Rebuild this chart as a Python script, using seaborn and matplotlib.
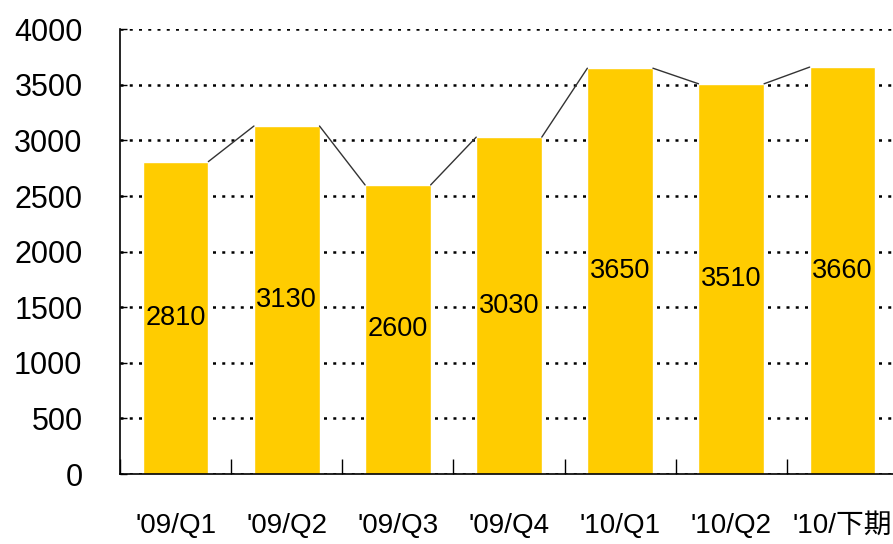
import numpy as np
import pandas as pd
import matplotlib
matplotlib.use("Agg")
import matplotlib.pyplot as plt
import seaborn as sns

# ================= DATA =================

periods = ["'09/Q1", "'09/Q2", "'09/Q3", "'09/Q4", "'10/Q1", "'10/Q2", "'10/下期"]
sales = [2810, 3130, 2600, 3030, 3650, 3510, 3660]
y_ticks = [0, 500, 1000, 1500, 2000, 2500, 3000, 3500, 4000]

df = pd.DataFrame({"period": periods, "sales": sales})

sns.set_style("white")
plt.rcParams["font.family"] = ["Liberation Sans", "Noto Sans CJK JP", "DejaVu Sans"]

fig = plt.figure(figsize=(8.93, 5.44), dpi=100)
ax = fig.add_axes([120 / 893, 70 / 544, 778 / 893, 444.7 / 544])

sns.barplot(
    data=df,
    x="period",
    y="sales",
    color="#FFCC00",
    saturation=1,
    width=0.59,
    ax=ax,
    zorder=2
)

# connector lines between bar tops
patches = ax.patches
for left, right in zip(patches[:-1], patches[1:]):
    ax.plot(
        [left.get_x() + left.get_width(), right.get_x()],
        [left.get_height(), right.get_height()],
        color="#333333",
        lw=1,
        zorder=3
    )

# value labels in the middle of the bars
for p, v in zip(patches, sales):
    ax.text(
        p.get_x() + p.get_width() / 2,
        v / 2,
        str(v),
        ha="center",
        va="center",
        fontsize=19.5,
        color="black",
        zorder=4
    )

ax.set_xlim(-0.5, len(periods) - 0.5)
ax.set_ylim(0, 4000)
ax.set_yticks(y_ticks)
ax.set_yticklabels([str(t) for t in y_ticks], fontsize=22, color="black")
ax.set_xlabel("")
ax.set_ylabel("")

ax.yaxis.grid(True, linestyle=(0, (1.2, 2.5)), color="black", lw=1.8, zorder=0)
ax.set_axisbelow(True)

ax.set_xticks(np.arange(len(periods)))
ax.set_xticklabels(periods, fontsize=20, color="black")
ax.set_xticks(np.arange(len(periods)) - 0.5, minor=True)
ax.tick_params(axis="x", which="major", bottom=True, length=0, pad=28)
ax.tick_params(axis="x", which="minor", bottom=True, direction="in", length=11, width=1, color="black")
ax.tick_params(axis="y", left=True, direction="in", length=5, width=1, color="black", pad=27)

for side in ["top", "right"]:
    ax.spines[side].set_visible(False)
for side in ["left", "bottom"]:
    ax.spines[side].set_color("black")
    ax.spines[side].set_linewidth(1.2)

fig.savefig("out.png", dpi=100)
